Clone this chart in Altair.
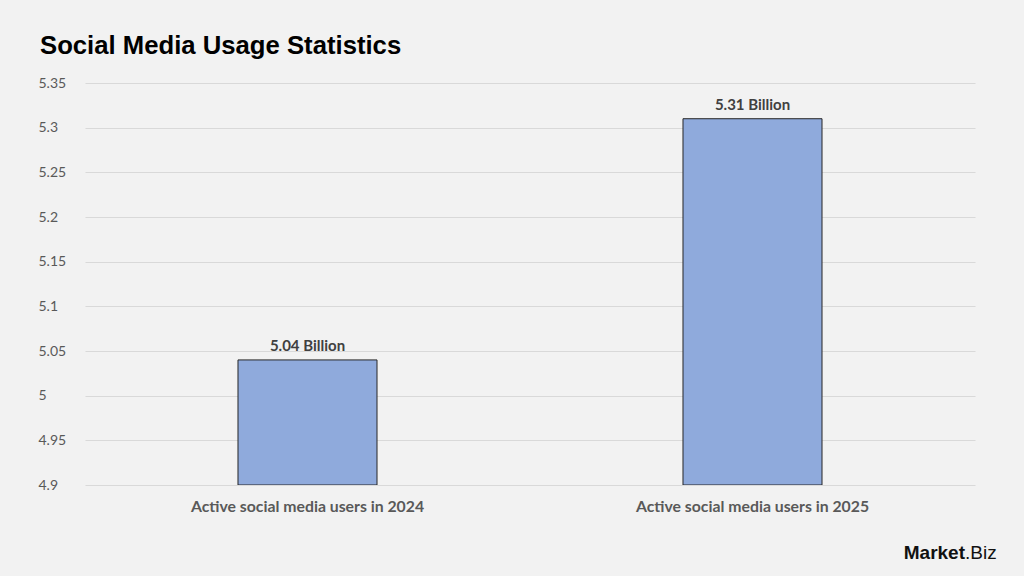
import altair as alt
import pandas as pd

# Chart data
categories = ["Active social media users in 2024", "Active social media users in 2025"]
users_billion = [5.04, 5.31]
value_labels = ["5.04 Billion", "5.31 Billion"]
y_ticks = [4.9, 4.95, 5.0, 5.05, 5.1, 5.15, 5.2, 5.25, 5.3, 5.35]

df = pd.DataFrame({"category": categories, "value": users_billion, "label": value_labels})

x_enc = alt.X(
    "category:N",
    sort=categories,
    title=None,
    scale=alt.Scale(paddingInner=0.6876, paddingOuter=0.3438),
    axis=alt.Axis(
        labelAngle=0, labelFont="Lato", labelFontSize=15.8, labelFontWeight="bold",
        labelColor="#595959", labelPadding=14, labelLimit=0,
        ticks=False, domain=False, grid=False,
    ),
)
y_scale = alt.Scale(domain=[4.9, 5.35], nice=False, zero=False)

bars = alt.Chart(df).mark_bar(
    color="#8faadc", stroke="#262626", strokeWidth=1, clip=True
).encode(
    x=x_enc,
    y=alt.Y(
        "value:Q",
        title=None,
        scale=y_scale,
        axis=alt.Axis(
            values=y_ticks, format=".3~g", labelFont="Lato", labelFontSize=14,
            labelColor="#595959", labelAlign="left", labelPadding=47,
            ticks=False, domain=False, gridColor="#d9d9d9", gridWidth=1,
        ),
    ),
    y2=alt.datum(4.9),
)

labels = alt.Chart(df).mark_text(
    dy=-14, font="Lato", fontSize=15, fontWeight="bold", color="#404040"
).encode(
    x=alt.X("category:N", sort=categories),
    y=alt.Y("value:Q", scale=y_scale),
    text="label:N",
)

logo_main = alt.Chart(pd.DataFrame({"t": ["Market"]})).mark_text(
    align="right", baseline="alphabetic", font="Liberation Sans", fontSize=19,
    fontWeight="bold", color="#111111",
).encode(x=alt.value(880), y=alt.value(476), text="t:N")

logo_tail = alt.Chart(pd.DataFrame({"t": [".Biz"]})).mark_text(
    align="left", baseline="alphabetic", font="Liberation Sans", fontSize=19,
    color="#111111",
).encode(x=alt.value(880), y=alt.value(476), text="t:N")

chart = alt.layer(bars, labels, logo_main, logo_tail).properties(
    width=890,
    height=402,
    background="#f2f2f2",
    padding={"left": 85, "top": 83, "right": 49, "bottom": 91},
    autosize=alt.AutoSizeParams(type="none"),
    title=alt.TitleParams(
        "Social Media Usage Statistics",
        anchor="start", font="Liberation Sans", fontSize=25.7, fontWeight="bold",
        color="#000000", dx=2, offset=16,
    ),
).configure_view(stroke=None)

chart.save("out.html", embed_options={"renderer": "svg", "actions": False})
